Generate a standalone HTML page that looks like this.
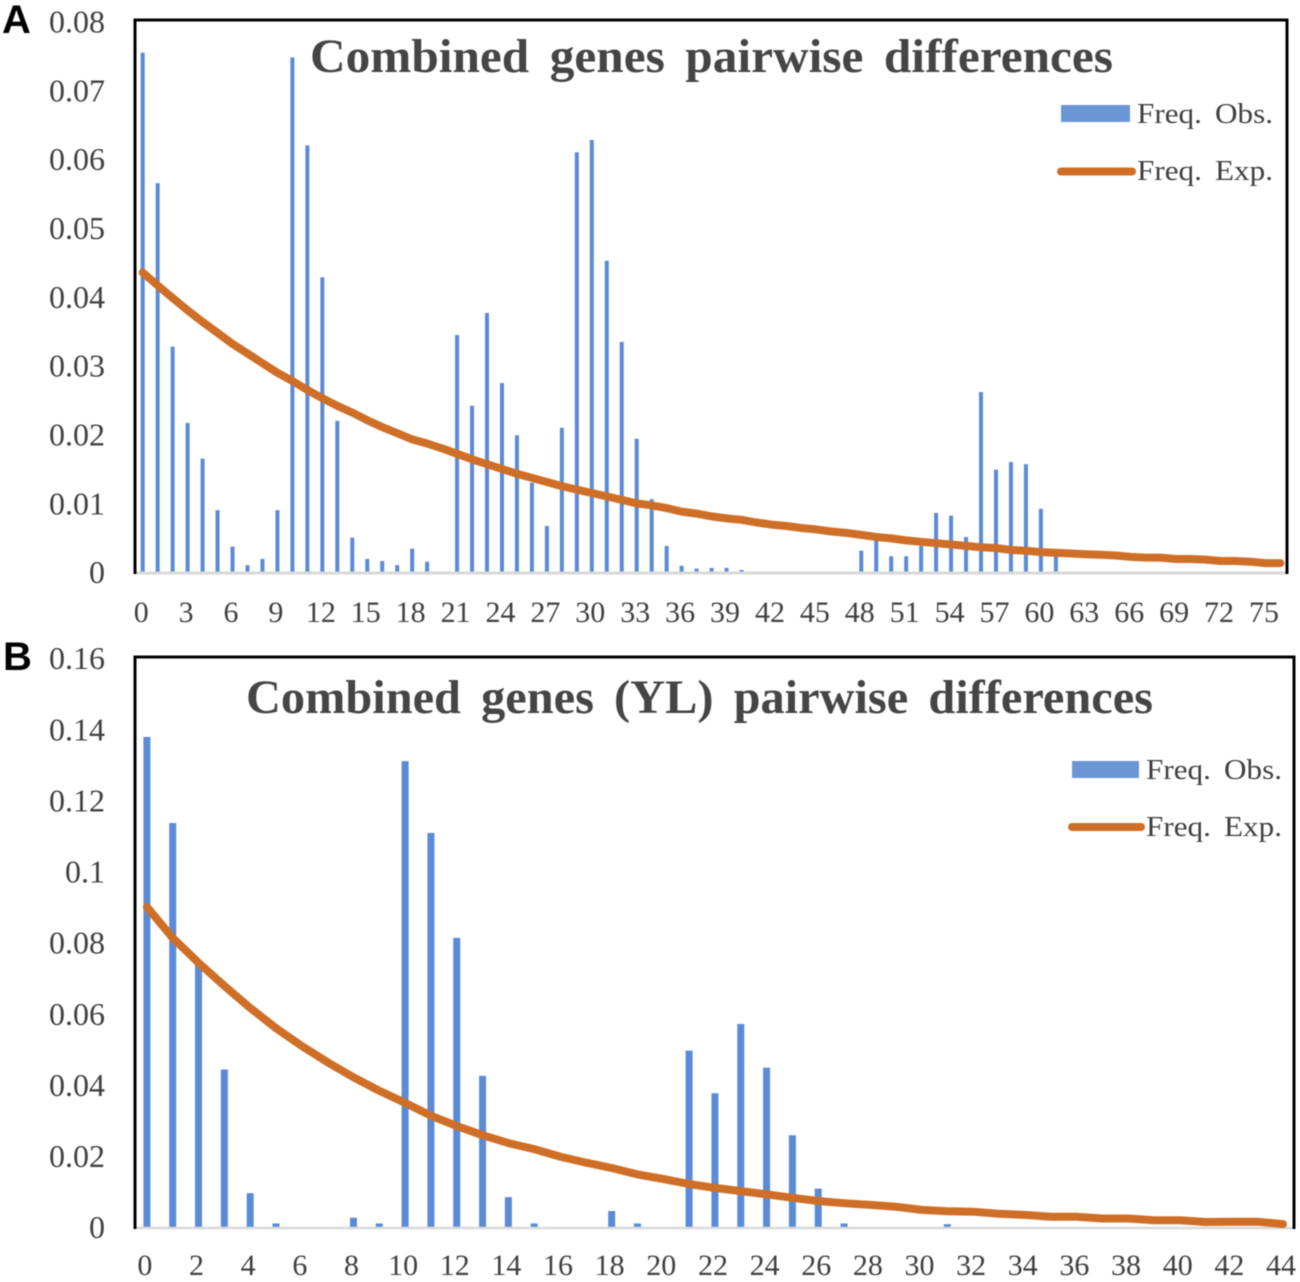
<!DOCTYPE html>
<html lang="en">
<head>
<meta charset="utf-8">
<title>Combined genes pairwise differences</title>
<style>
html,body{margin:0;padding:0;background:#fff;}
svg{display:block;filter:blur(0.5px);}
text{font-family:"Liberation Serif",serif;fill:#404040;}
.panel{font-family:"Liberation Sans",sans-serif;font-weight:700;font-size:40px;fill:#000;}
.title{font-weight:700;font-size:48px;fill:#454545;word-spacing:8px;}
.leg{font-size:29px;fill:#404040;word-spacing:5px;}
.tick{font-size:32px;fill:#404040;}
</style>
</head>
<body>
<svg id="figure" width="1300" height="1282" viewBox="0 0 1300 1282" xmlns="http://www.w3.org/2000/svg">
<rect width="1300" height="1282" fill="#fff"/>

<g id="chart-a">
  <text class="panel" x="2" y="33">A</text>
  <g id="a-bars"></g>
  <line x1="135" y1="573" x2="1287" y2="573" stroke="#d9d9d9" stroke-width="3"/>
  <path d="M135 574V20H1287V574" fill="none" stroke="#000" stroke-width="3"/>
  <g id="a-line"></g>
  <g id="a-yticks"></g>
  <g id="a-xticks"></g>
  <text class="title" x="310" y="72" textLength="803" lengthAdjust="spacingAndGlyphs">Combined genes pairwise differences</text>
  <rect x="1061" y="105" width="69" height="17" fill="#6b96d6"/>
  <text class="leg" x="1137" y="123" textLength="136" lengthAdjust="spacingAndGlyphs">Freq. Obs.</text>
  <line x1="1061" y1="171.5" x2="1132" y2="171.5" stroke="#cf6f27" stroke-width="8" stroke-linecap="round"/>
  <text class="leg" x="1137" y="180" textLength="136" lengthAdjust="spacingAndGlyphs">Freq. Exp.</text>
</g>

<g id="chart-b">
  <text class="panel" x="3" y="670">B</text>
  <g id="b-bars"></g>
  <line x1="135" y1="1228" x2="1294" y2="1228" stroke="#d9d9d9" stroke-width="2.5"/>
  <path d="M135 1229V657H1294V1229" fill="none" stroke="#000" stroke-width="3"/>
  <g id="b-line"></g>
  <g id="b-yticks"></g>
  <g id="b-xticks"></g>
  <text class="title" x="246" y="713" textLength="907" lengthAdjust="spacingAndGlyphs">Combined genes (YL) pairwise differences</text>
  <rect x="1072" y="761" width="67" height="17" fill="#6b96d6"/>
  <text class="leg" x="1146" y="779" textLength="136" lengthAdjust="spacingAndGlyphs">Freq. Obs.</text>
  <line x1="1072" y1="827" x2="1141" y2="827" stroke="#cf6f27" stroke-width="8" stroke-linecap="round"/>
  <text class="leg" x="1146" y="836" textLength="136" lengthAdjust="spacingAndGlyphs">Freq. Exp.</text>
</g>
</svg>

<script>
const aObserved = [
  0.0757,0.0567,0.0329,0.0218,0.0166,0.0091,0.0038,0.0011,0.0020,0.0091,
  0.0750,0.0622,0.0430,0.0221,0.0051,0.0020,0.0017,0.0011,0.0035,0.0016,
  0,0.0346,0.0243,0.0378,0.0276,0.0200,0.0131,0.0068,0.0211,0.0612,
  0.0630,0.0454,0.0336,0.0195,0.0107,0.0039,0.0010,0.0006,0.0007,0.0007,
  0.0004,0,0,0,0,0,0,0,0.0032,0.0050,
  0.0024,0.0024,0.0039,0.0087,0.0083,0.0052,0.0263,0.0150,0.0161,0.0158,
  0.0093,0.0025,0,0,0,0,0,0,0,0,
  0,0,0,0,0,0,0
];
const aExpected = [
  0.0437,0.0418,0.0400,0.0382,0.0365,0.0349,0.0333,0.0319,0.0305,0.0291,
  0.0279,0.0266,0.0254,0.0243,0.0233,0.0222,0.0212,0.0203,0.0194,0.0188,
  0.0181,0.0173,0.0165,0.0158,0.0151,0.0144,0.0138,0.0132,0.0126,0.0121,
  0.0116,0.0111,0.0106,0.0101,0.0098,0.0094,0.0089,0.0086,0.0082,0.0079,
  0.0077,0.0073,0.0070,0.0068,0.0065,0.0063,0.0060,0.0058,0.0055,0.0052,
  0.0050,0.0047,0.0045,0.0043,0.0041,0.0039,0.0037,0.0036,0.0033,0.0032,
  0.0030,0.0029,0.0028,0.0027,0.0026,0.0025,0.0023,0.0022,0.0022,0.0020,
  0.0020,0.0019,0.0017,0.0017,0.0016,0.0014,0.0014
];
const aYTicks = [0,0.01,0.02,0.03,0.04,0.05,0.06,0.07,0.08];
const aYTickLabels = ["0","0.01","0.02","0.03","0.04","0.05","0.06","0.07","0.08"];
const aXTicks = [0,3,6,9,12,15,18,21,24,27,30,33,36,39,42,45,48,51,54,57,60,63,66,69,72,75];

const bObserved = [
  0.1380,0.1138,0.0740,0.0445,0.0097,0.0012,0,0,0.0028,0.0012,
  0.1312,0.1110,0.0815,0.0427,0.0086,0.0012,0,0,0.0047,0.0012,
  0,0.0498,0.0378,0.0573,0.0450,0.0260,0.0110,0.0012,0,0,
  0,0.0010,0,0,0,0,0,0,0,0,
  0,0,0,0,0
];
const bExpected = [
  0.0902,0.0815,0.0745,0.0680,0.0618,0.0561,0.0511,0.0465,0.0423,0.0385,
  0.0351,0.0315,0.0286,0.0260,0.0238,0.0221,0.0200,0.0183,0.0168,0.0150,
  0.0137,0.0123,0.0112,0.0103,0.0094,0.0084,0.0075,0.0069,0.0064,0.0059,
  0.0050,0.0046,0.0045,0.0039,0.0036,0.0031,0.0031,0.0026,0.0026,0.0021,
  0.0021,0.0016,0.0017,0.0017,0.0010
];
const bYTicks = [0,0.02,0.04,0.06,0.08,0.1,0.12,0.14,0.16];
const bYTickLabels = ["0","0.02","0.04","0.06","0.08","0.1","0.12","0.14","0.16"];
const bXTicks = [0,2,4,6,8,10,12,14,16,18,20,22,24,26,28,30,32,34,36,38,40,42,44];

const SVG_NS = "http://www.w3.org/2000/svg";

function drawChart(prefix, cfg, observed, expected, yTicks, yLabels, xTicks) {
  const xScale = function (i) { return cfg.x0 + i * cfg.step; };
  const yScale = function (v) { return cfg.y0 - v * cfg.pxPerUnit; };
  const yLabelScale = function (v) { return cfg.y0 - v * cfg.labelPxPerUnit; };

  const barGroup = document.getElementById(prefix + "-bars");
  observed.forEach(function (v, i) {
    if (v <= 0) return;
    const bar = document.createElementNS(SVG_NS, "rect");
    bar.setAttribute("x", xScale(i) - cfg.barWidth / 2);
    bar.setAttribute("y", yScale(v));
    bar.setAttribute("width", cfg.barWidth);
    bar.setAttribute("height", cfg.y0 - yScale(v));
    bar.setAttribute("fill", "#5b8ad6");
    
    
    barGroup.appendChild(bar);
  });

  const lineGroup = document.getElementById(prefix + "-line");
  const line = document.createElementNS(SVG_NS, "polyline");
  line.setAttribute("points", expected.map(function (v, i) {
    return xScale(i).toFixed(1) + "," + yScale(v).toFixed(1);
  }).join(" "));
  line.setAttribute("fill", "none");
  line.setAttribute("stroke", "#cf6f27");
  line.setAttribute("stroke-width", "8");
  line.setAttribute("stroke-linecap", "round");
  line.setAttribute("stroke-linejoin", "round");
  
  
  lineGroup.appendChild(line);

  const yGroup = document.getElementById(prefix + "-yticks");
  yTicks.forEach(function (v, i) {
    const t = document.createElementNS(SVG_NS, "text");
    t.setAttribute("class", "tick");
    t.setAttribute("x", 105);
    t.setAttribute("y", yLabelScale(v) + 10.5);
    t.setAttribute("text-anchor", "end");
    
    
    t.textContent = yLabels[i];
    yGroup.appendChild(t);
  });

  const xGroup = document.getElementById(prefix + "-xticks");
  xTicks.forEach(function (v) {
    const t = document.createElementNS(SVG_NS, "text");
    t.setAttribute("class", "tick");
    t.setAttribute("x", xScale(v) + cfg.labelShift);
    t.setAttribute("y", cfg.labelY);
    t.setAttribute("text-anchor", "middle");
    t.style.fontSize = "30px";
    
    
    t.textContent = String(v);
    xGroup.appendChild(t);
  });
}

drawChart("a",
  {x0: 142.7, step: 14.97, y0: 572.7, pxPerUnit: 6870, labelPxPerUnit: 6885, barWidth: 4, labelY: 622, labelShift: -1.5},
  aObserved, aExpected, aYTicks, aYTickLabels, aXTicks);
drawChart("b",
  {x0: 146.9, step: 25.82, y0: 1227.7, pxPerUnit: 3556, labelPxPerUnit: 3556, barWidth: 7, labelY: 1275, labelShift: -2},
  bObserved, bExpected, bYTicks, bYTickLabels, bXTicks);
</script>
</body>
</html>
